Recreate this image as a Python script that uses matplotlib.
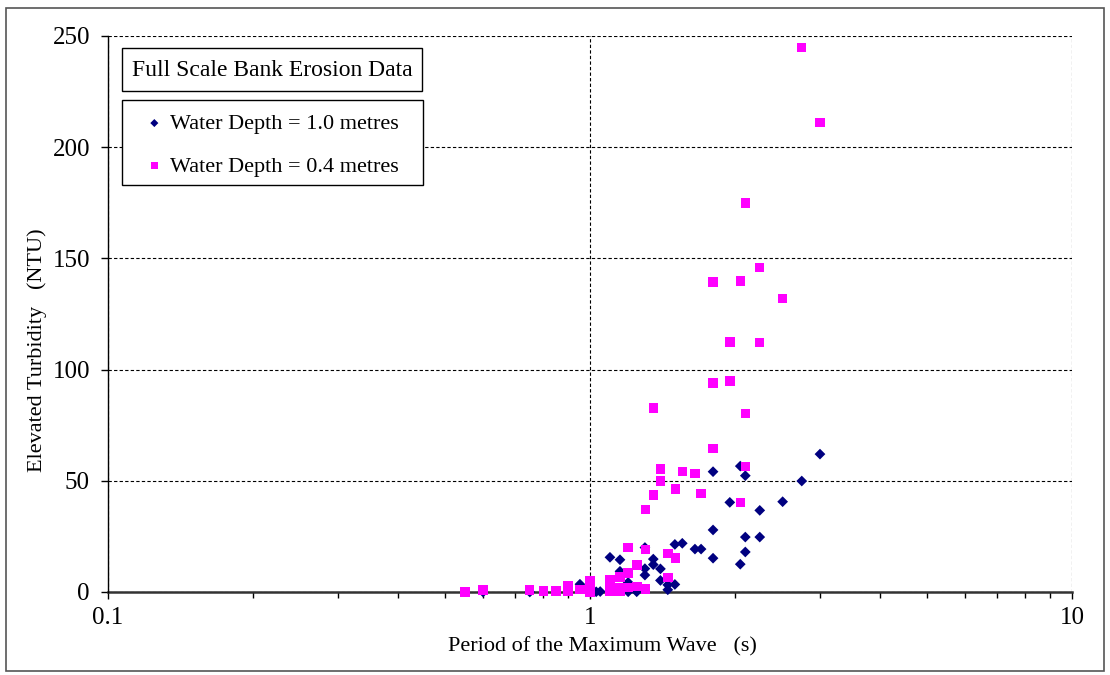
import matplotlib
matplotlib.use("Agg")
import matplotlib.pyplot as plt
from matplotlib.patches import Rectangle
from matplotlib.ticker import FixedLocator, FixedFormatter, LogLocator, NullFormatter

plt.rcParams['font.family'] = ['Liberation Serif', 'DejaVu Serif']

# Water depth = 1.0 m (navy diamonds)
deep_period = [0.60, 0.75, 0.953, 1.03, 1.05, 1.10, 1.154, 1.154, 1.20, 1.20, 1.25,
               1.30, 1.30, 1.30, 1.353, 1.353, 1.40, 1.40, 1.45, 1.45, 1.50, 1.50,
               1.554, 1.651, 1.70, 1.80, 1.80, 1.80, 1.95, 2.05, 2.05, 2.10, 2.10,
               2.10, 2.25, 2.25, 2.51, 2.75, 3.0]
deep_turb = [0.0, 0.0, 3.5, 0.1, 0.2, 15.6, 14.5, 9.3, 4.3, 0.1, 0.1,
             20.0, 10.5, 7.6, 14.8, 12.3, 10.4, 5.2, 3.2, 1.0, 3.4, 21.4,
             21.9, 19.3, 19.3, 27.9, 15.2, 54.1, 40.3, 56.6, 12.5, 52.3, 24.7,
             18.0, 36.7, 24.7, 40.6, 49.9, 62.0]

# Water depth = 0.4 m (magenta squares)
shallow_period = [0.55, 0.60, 0.75, 0.80, 0.85, 0.90, 0.90, 0.953, 1.0, 1.0, 1.0,
                  1.10, 1.10, 1.10, 1.154, 1.154, 1.154, 1.20, 1.20, 1.20, 1.252, 1.252,
                  1.303, 1.303, 1.303, 1.353, 1.353, 1.402, 1.402, 1.451, 1.451, 1.503,
                  1.503, 1.554, 1.651, 1.70, 1.80, 1.80, 1.80, 1.95, 1.95, 2.05, 2.05,
                  2.10, 2.10, 2.10, 2.25, 2.25, 2.51, 2.75, 3.0]
shallow_turb = [0.0, 0.9, 0.9, 0.4, 0.4, 3.0, 0.2, 1.0, 5.0, 2.0, 0.0,
                5.4, 2.0, 0.5, 6.8, 2.0, 0.2, 19.9, 8.6, 2.0, 12.1, 2.6,
                19.0, 1.3, 37.1, 43.6, 82.7, 55.4, 50.0, 17.4, 6.5, 46.4,
                15.2, 54.1, 53.2, 44.2, 64.6, 94.0, 139.4, 94.9, 112.4, 139.8, 40.3,
                174.9, 80.2, 56.5, 146.0, 112.1, 131.9, 244.7, 211.0]

x_ticks = [0.1, 1, 10]
x_tick_labels = ["0.1", "1", "10"]
y_ticks = [0, 50, 100, 150, 200, 250]
y_tick_labels = ["0", "50", "100", "150", "200", "250"]

W, H = 1110, 675
fig = plt.figure(figsize=(W / 100, H / 100), dpi=100)
ax = fig.add_axes([108 / W, (H - 592) / H, 964 / W, 556 / H])

ax.scatter(deep_period, deep_turb, marker='D', s=30, color='#000080',
           edgecolors='none', label='Water Depth = 1.0 metres', zorder=3, clip_on=False)
ax.scatter(shallow_period, shallow_turb, marker='s', s=46, color='#FF00FF',
           edgecolors='none', label='Water Depth = 0.4 metres', zorder=4, clip_on=False)

ax.set_xscale('log')
ax.set_xlim(0.1, 10)
ax.set_ylim(0, 250)

ax.xaxis.set_major_locator(FixedLocator(x_ticks))
ax.xaxis.set_major_formatter(FixedFormatter(x_tick_labels))
ax.xaxis.set_minor_locator(LogLocator(base=10, subs=range(2, 10)))
ax.xaxis.set_minor_formatter(NullFormatter())
ax.yaxis.set_major_locator(FixedLocator(y_ticks))
ax.yaxis.set_major_formatter(FixedFormatter(y_tick_labels))

ax.grid(True, which='major', axis='both', color='black', linestyle=(0, (3, 2)), linewidth=0.8)
ax.set_axisbelow(True)

for side in ['top', 'right']:
    ax.spines[side].set_visible(False)
ax.spines['left'].set_color('black')
ax.spines['left'].set_linewidth(1.0)
ax.spines['bottom'].set_color('#333333')
ax.spines['bottom'].set_linewidth(1.8)
ax.spines['bottom'].set_zorder(2)

ax.tick_params(axis='both', which='major', direction='out', length=5, width=1,
               labelsize=18, colors='black')
ax.tick_params(axis='y', which='major', pad=8)
ax.tick_params(axis='x', which='major', pad=6)
ax.tick_params(axis='x', which='minor', direction='out', length=4, width=1)

ax.set_xlabel('Period of the Maximum Wave   (s)', fontsize=16)
ax.set_ylabel('Elevated Turbidity   (NTU)', fontsize=16)
ax.xaxis.set_label_coords(0.513, -45 / 556)
ax.yaxis.set_label_coords(-61 / 964, 0.435)

# title box
ax.add_patch(Rectangle((122 / W, (H - 91) / H), 300 / W, 43 / H, transform=fig.transFigure,
                       facecolor='white', edgecolor='black', linewidth=1.0, zorder=5,
                       clip_on=False))
ax.text(272 / W, (H - 70) / H, 'Full Scale Bank Erosion Data', transform=fig.transFigure,
        ha='center', va='center', fontsize=17, zorder=6)

# legend box
ax.add_patch(Rectangle((122 / W, (H - 185) / H), 301 / W, 85 / H, transform=fig.transFigure,
                       facecolor='white', edgecolor='black', linewidth=1.0, zorder=5,
                       clip_on=False))
leg = ax.legend(loc='center left', bbox_to_anchor=(141 / W, (H - 145) / H),
                bbox_transform=fig.transFigure, fontsize=16, frameon=False,
                borderpad=0, labelspacing=1.0, handletextpad=0.1, handlelength=1.2,
                borderaxespad=0, markerscale=0.75)
leg.set_zorder(7)

# outer chart border
fig.patches.append(Rectangle((6 / W, 4 / H), 1098 / W, 663 / H, transform=fig.transFigure,
                             fill=False, edgecolor='#555555', linewidth=1.2))

fig.savefig('out.png', dpi=100)
